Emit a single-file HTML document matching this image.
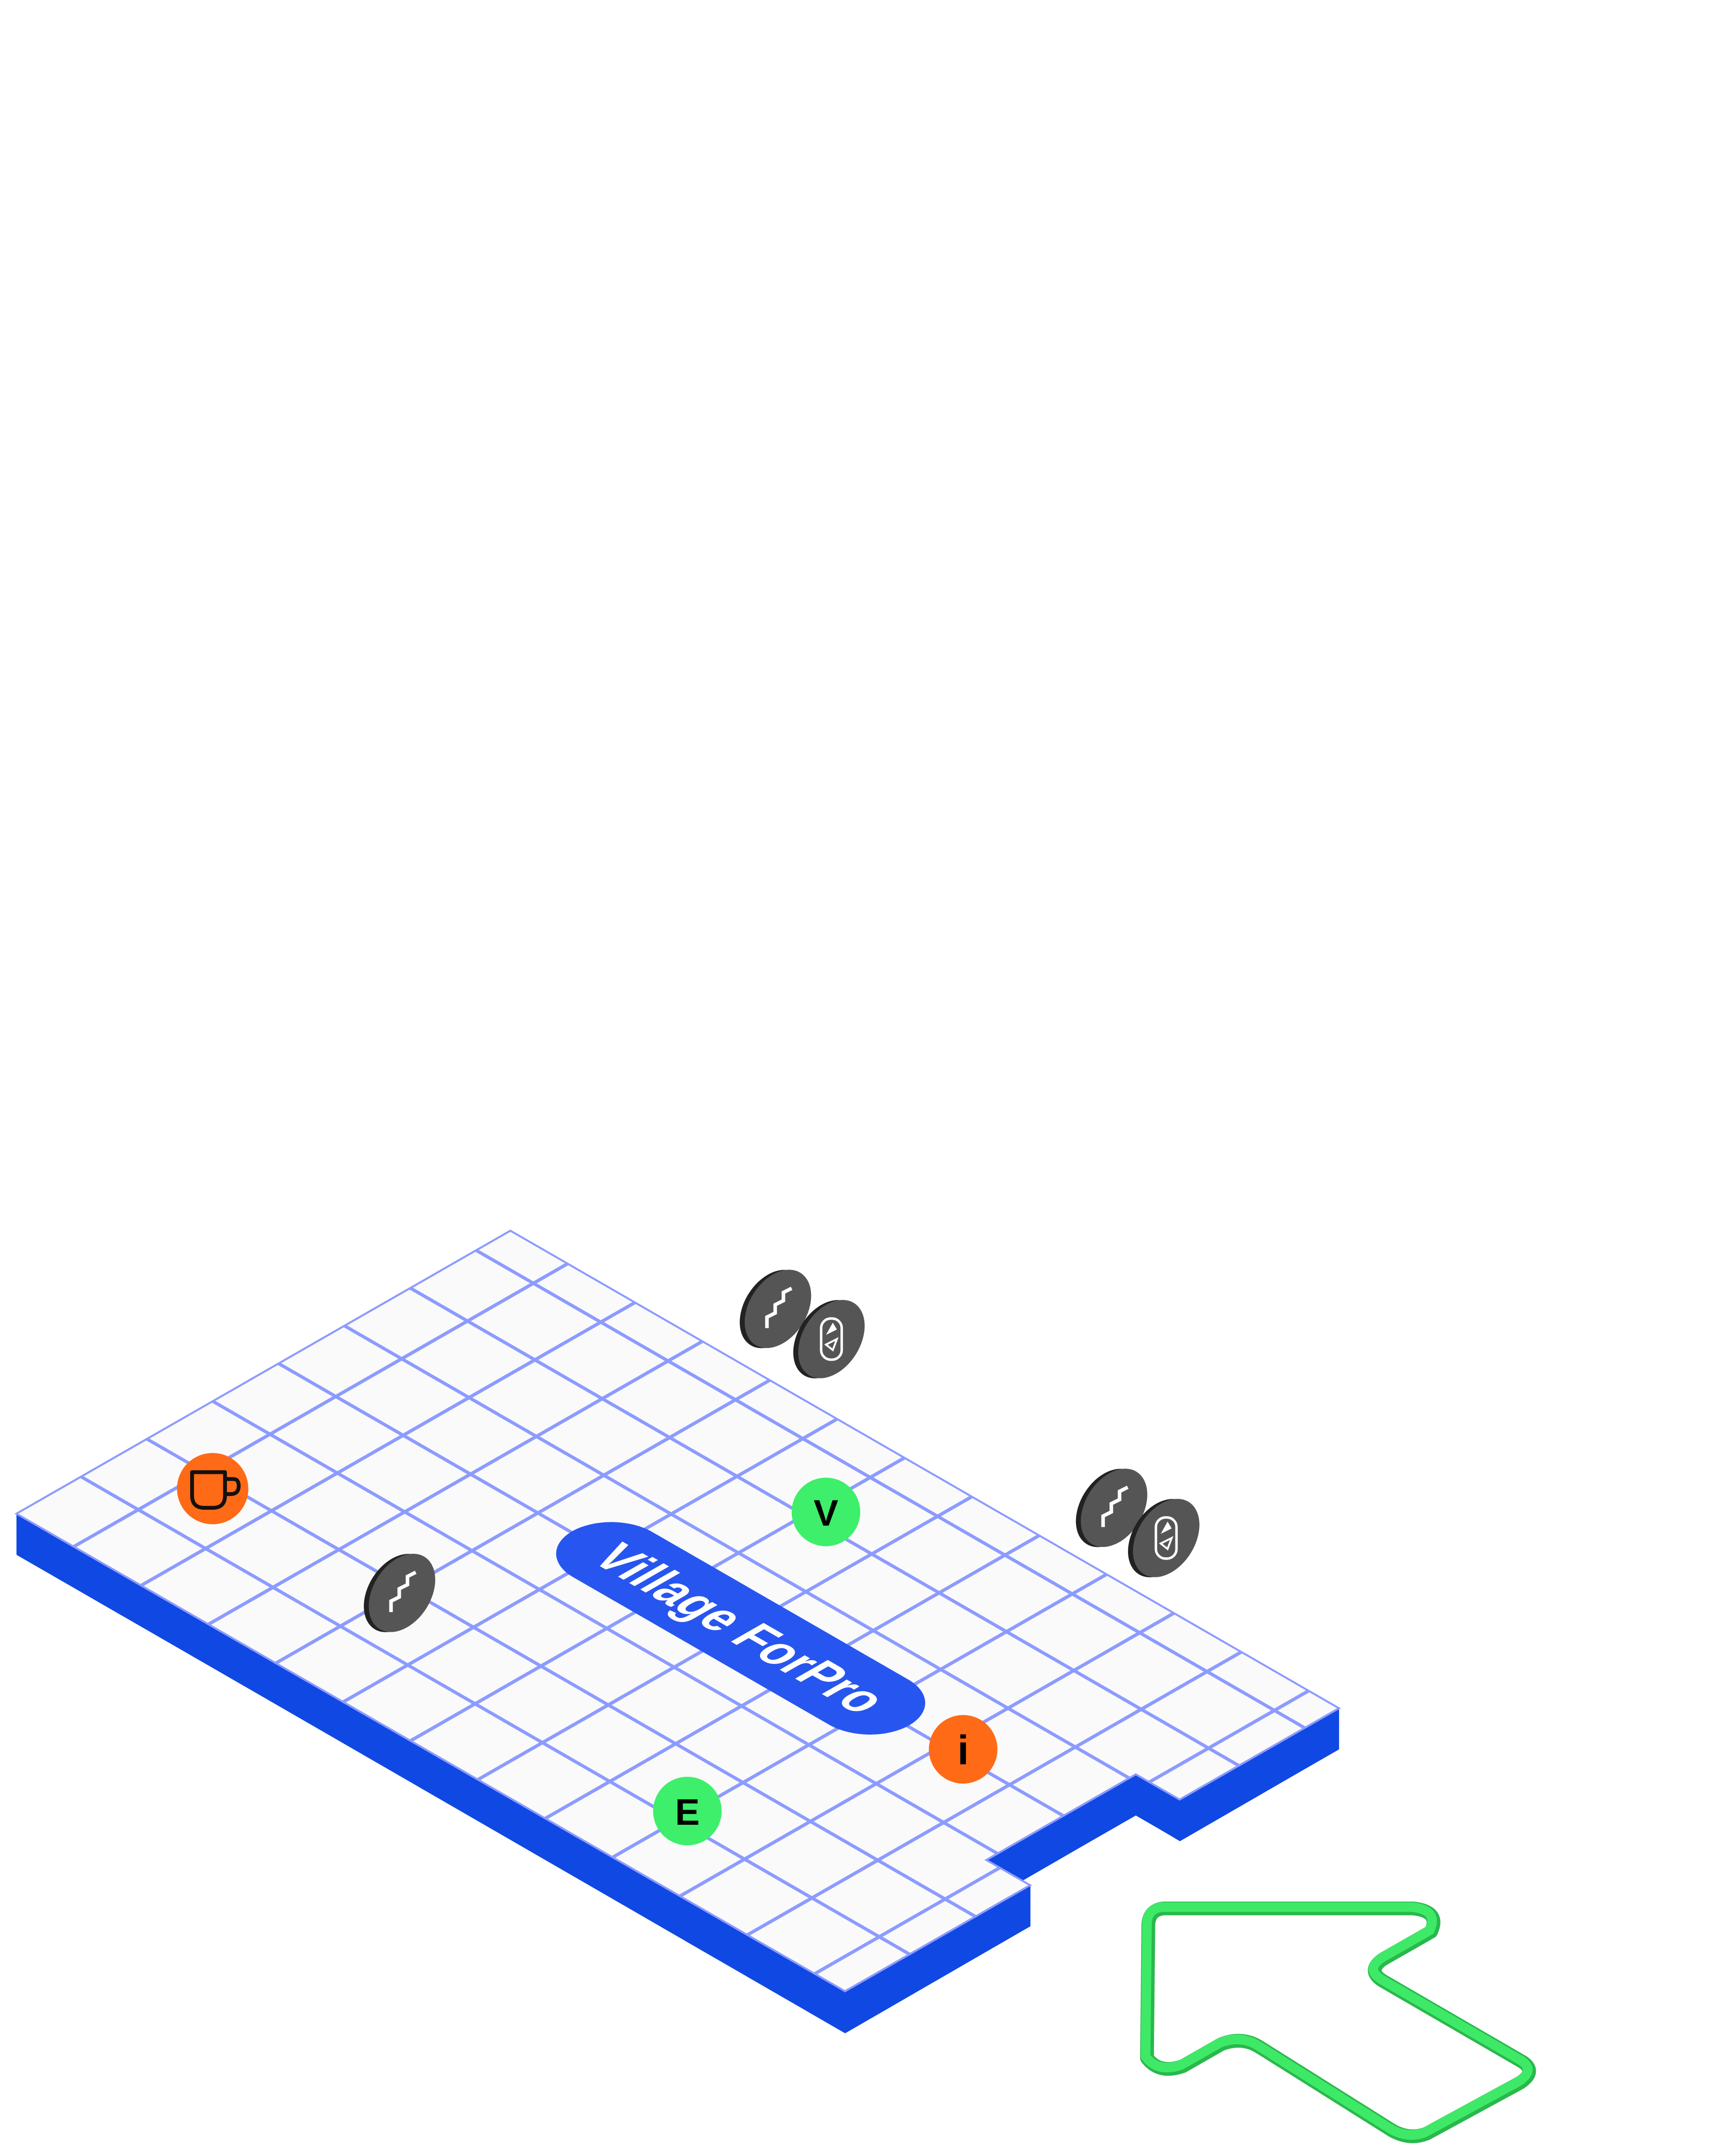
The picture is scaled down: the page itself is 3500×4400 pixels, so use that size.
<!DOCTYPE html>
<html><head><meta charset="utf-8"><style>
html,body{margin:0;padding:0;background:#fff;}
svg{display:block;}
</style></head><body>
<svg width="3500" height="4400" viewBox="0 0 1250 1571.43" xmlns="http://www.w3.org/2000/svg">
<defs>
<g id="stairs"><polyline points="-8,14 -8,6 -2,3 -2,-3 4,-6 4,-12 10,-15" fill="none" stroke="#fff" stroke-width="2.6"/></g>
<g id="elev">
    <rect x="-7.5" y="-15" width="15" height="30" rx="7" fill="none" stroke="#fff" stroke-width="1.8"/>
    <polygon points="-4,-3 4,-7 1,-12" fill="#fff"/>
    <polygon points="-4,4 4,0 1,8" fill="none" stroke="#fff" stroke-width="1.4"/>
</g>
</defs>
<g fill="#0f48e3">
  <g transform="translate(0,30) matrix(0.491,0.283,-0.48,0.275,372,897)">
    <polygon points="0,0 1230,0 1230,242 1165,242 1165,469 1230,469 1230,750 0,750"/>
  </g>
  <polygon points="12,1103 616,1452 616,1482 12,1133"/>
  <polygon points="616,1452 751,1374 751,1404 616,1482"/>
  <polygon points="751,1374 719,1356 719,1386 751,1404"/>
  <polygon points="719,1356 828,1293 828,1323 719,1386"/>
  <polygon points="828,1293 860,1312 860,1342 828,1323"/>
  <polygon points="860,1312 976,1245 976,1275 860,1342"/>
</g>
<g transform="matrix(0.491,0.283,-0.48,0.275,372,897)">
  <polygon points="0,0 1230,0 1230,242 1165,242 1165,469 1230,469 1230,750 0,750" fill="#fafafa"/>
  <clipPath id="cp"><polygon points="0,0 1230,0 1230,242 1165,242 1165,469 1230,469 1230,750 0,750"/></clipPath>
  <g clip-path="url(#cp)" stroke="#8c9bff" stroke-width="5" fill="none">
    <path d="M85,0V750M185,0V750M285,0V750M385,0V750M485,0V750M585,0V750M685,0V750M785,0V750M885,0V750M985,0V750M1085,0V750M1185,0V750
             M0,52H1230M0,152H1230M0,252H1230M0,352H1230M0,452H1230M0,552H1230M0,652H1230"/>
  </g>
  <polygon points="0,0 1230,0 1230,242 1165,242 1165,469 1230,469 1230,750 0,750" fill="none" stroke="#8c9bff" stroke-width="3"/>
  <rect x="434" y="290" width="500" height="120" rx="60" ry="60" fill="#2755f0"/>
  <text x="684" y="375" text-anchor="middle" font-family="Liberation Sans, sans-serif" font-weight="bold" font-size="72" fill="#fff" textLength="400" lengthAdjust="spacingAndGlyphs">Village ForPro</text>
</g>
<circle cx="155" cy="1085" r="26" fill="#ff6a17"/>
<g fill="none" stroke="#111" stroke-width="2.8" stroke-linejoin="round">
  <path d="M140,1073 H164 V1090 Q164,1099 155,1099 H149 Q140,1099 140,1090 Z"/>
  <path d="M164,1078 H170 Q174,1078 174,1083 Q174,1089 168,1089 H164"/>
</g>
<circle cx="602" cy="1102" r="25" fill="#3def6a"/>
<text x="602" y="1112" text-anchor="middle" font-family="Liberation Sans, sans-serif" font-weight="bold" font-size="27" fill="#000">V</text>
<circle cx="702" cy="1275" r="25" fill="#ff6a17"/>
<text x="702" y="1286" text-anchor="middle" font-family="Liberation Sans, sans-serif" font-weight="bold" font-size="30" fill="#000">i</text>
<circle cx="501" cy="1320" r="25" fill="#3def6a"/>
<text x="501" y="1330" text-anchor="middle" font-family="Liberation Sans, sans-serif" font-weight="bold" font-size="27" fill="#000">E</text>
<g>
  <g transform="translate(567,954)">
    <ellipse cx="-3" cy="2" rx="21" ry="31" transform="rotate(32)" fill="#222"/>
    <ellipse cx="0" cy="0" rx="21" ry="31" transform="rotate(32)" fill="#555"/>
    <use href="#stairs"/>
  </g>
  <g transform="translate(606,976)">
    <ellipse cx="-3" cy="2" rx="21" ry="31" transform="rotate(32)" fill="#222"/>
    <ellipse cx="0" cy="0" rx="21" ry="31" transform="rotate(32)" fill="#555"/>
    <use href="#elev"/>
  </g>
  <g transform="translate(812,1099)">
    <ellipse cx="-3" cy="2" rx="21" ry="31" transform="rotate(32)" fill="#222"/>
    <ellipse cx="0" cy="0" rx="21" ry="31" transform="rotate(32)" fill="#555"/>
    <use href="#stairs"/>
  </g>
  <g transform="translate(850,1121)">
    <ellipse cx="-3" cy="2" rx="21" ry="31" transform="rotate(32)" fill="#222"/>
    <ellipse cx="0" cy="0" rx="21" ry="31" transform="rotate(32)" fill="#555"/>
    <use href="#elev"/>
  </g>
  <g transform="translate(293,1161)">
    <ellipse cx="-3" cy="2" rx="21" ry="31" transform="rotate(32)" fill="#222"/>
    <ellipse cx="0" cy="0" rx="21" ry="31" transform="rotate(32)" fill="#555"/>
    <use href="#stairs"/>
  </g>
</g>
<path d="M848 1391 L1030 1391 Q1050 1393 1043 1408 L1008 1428 Q995 1437 1010 1445 L1110 1503 Q1120 1510 1108 1518 L1040 1555 Q1028 1560 1015 1553 L918 1492 Q905 1484 890 1490 L862 1506 Q845 1512 836 1500 L837 1402 Q838 1392 848 1391 Z" fill="none" stroke="#29b84c" stroke-width="10" stroke-linejoin="round"/>
<path d="M848 1391 L1030 1391 Q1050 1393 1043 1408 L1008 1428 Q995 1437 1010 1445 L1110 1503 Q1120 1510 1108 1518 L1040 1555 Q1028 1560 1015 1553 L918 1492 Q905 1484 890 1490 L862 1506 Q845 1512 836 1500 L837 1402 Q838 1392 848 1391 Z" fill="none" stroke="#3fe968" stroke-width="7" stroke-linejoin="round" transform="translate(-1,-1)"/>
</svg>
</body></html>
